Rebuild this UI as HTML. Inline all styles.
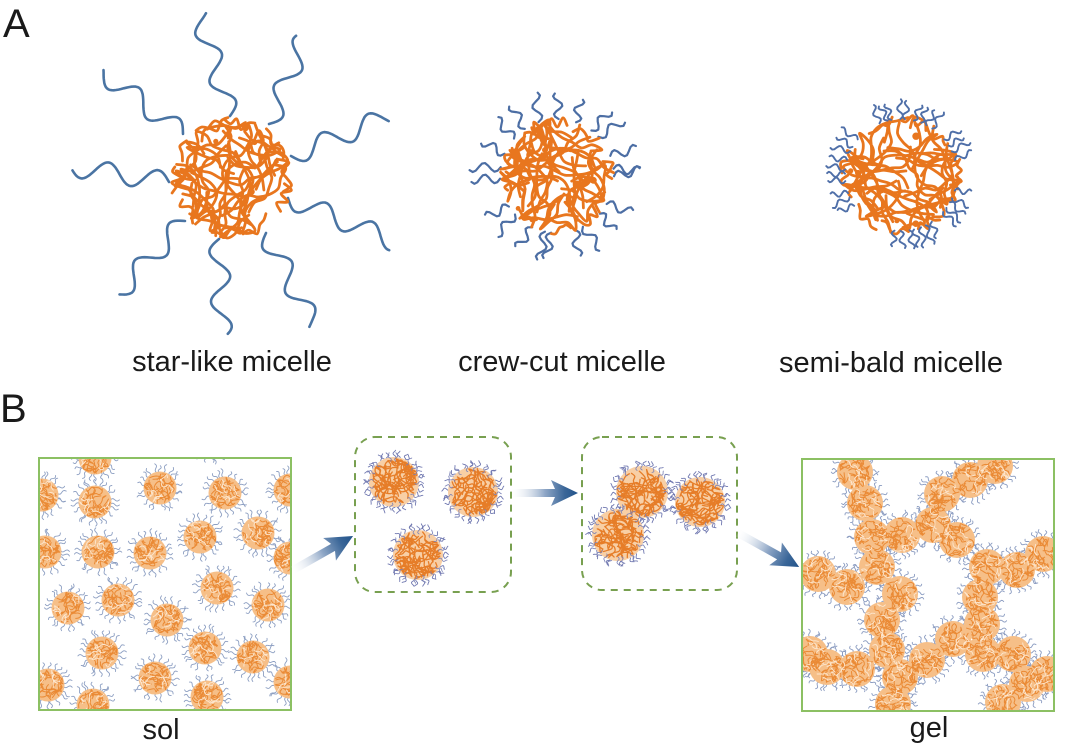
<!DOCTYPE html>
<html><head><meta charset="utf-8">
<style>
html,body{margin:0;padding:0;background:#fff;}
svg{display:block;}
text{font-family:"Liberation Sans",Arial,sans-serif;fill:#1a1a1a;}
</style></head>
<body>
<svg id="s" width="1080" height="751" viewBox="0 0 1080 751" xmlns="http://www.w3.org/2000/svg">
<defs>
 <linearGradient id="ag" x1="0" y1="0" x2="1" y2="0">
   <stop offset="0" stop-color="#ffffff" stop-opacity="0.15"/>
   <stop offset="0.5" stop-color="#8ea6c6"/>
   <stop offset="0.8" stop-color="#3a6698"/>
   <stop offset="1" stop-color="#22538a"/>
 </linearGradient>
 <clipPath id="csol"><rect x="39" y="458" width="252" height="252"/></clipPath>
 <clipPath id="cgel"><rect x="802" y="459" width="252" height="252"/></clipPath>
</defs>
<rect width="1080" height="751" fill="#fff"/>

<text x="3" y="37" font-size="40">A</text>
<text x="0" y="422" font-size="40">B</text>
<text x="232" y="371" font-size="29" text-anchor="middle">star-like micelle</text>
<text x="562" y="371" font-size="29" text-anchor="middle">crew-cut micelle</text>
<text x="891" y="372" font-size="29" text-anchor="middle">semi-bald micelle</text>
<text x="161" y="739" font-size="29" text-anchor="middle">sol</text>
<text x="929" y="737" font-size="29" text-anchor="middle">gel</text>

<g id="aT"></g>
<g id="aS"></g>
<g id="aTop"></g>

<g clip-path="url(#csol)">
 <g id="solT"></g>
 <g id="solC" fill="#f6bf88">
  <circle cx="95" cy="458" r="16.5"/><circle cx="95" cy="502" r="16.5"/><circle cx="42" cy="495" r="16.5"/>
  <circle cx="160" cy="488" r="16.5"/><circle cx="225" cy="493" r="16.5"/><circle cx="290" cy="490" r="16.5"/>
  <circle cx="210" cy="440" r="16.5"/>
  <circle cx="45" cy="552" r="16.5"/><circle cx="98" cy="552" r="16.5"/><circle cx="150" cy="553" r="16.5"/>
  <circle cx="200" cy="537" r="16.5"/><circle cx="258" cy="533" r="16.5"/><circle cx="290" cy="558" r="16.5"/>
  <circle cx="68" cy="608" r="16.5"/><circle cx="118" cy="600" r="16.5"/><circle cx="167" cy="620" r="16.5"/>
  <circle cx="217" cy="588" r="16.5"/><circle cx="268" cy="605" r="16.5"/>
  <circle cx="102" cy="653" r="16.5"/><circle cx="205" cy="648" r="16.5"/><circle cx="253" cy="657" r="16.5"/>
  <circle cx="48" cy="685" r="16.5"/><circle cx="155" cy="678" r="16.5"/><circle cx="93" cy="705" r="16.5"/>
  <circle cx="207" cy="697" r="16.5"/><circle cx="290" cy="682" r="16.5"/>
 </g>
 <g id="solS"></g>
</g>
<rect x="39" y="458" width="252" height="252" fill="none" stroke="#8cc063" stroke-width="2"/>

<g clip-path="url(#cgel)">
 <g id="gelT"></g>
 <g id="gelC" fill="#f6bf88">
  <circle cx="855" cy="472" r="18"/><circle cx="865" cy="503" r="18"/><circle cx="872" cy="537" r="18"/>
  <circle cx="902" cy="535" r="18"/><circle cx="877" cy="567" r="18"/><circle cx="900" cy="594" r="18"/>
  <circle cx="882" cy="620" r="18"/><circle cx="887" cy="650" r="18"/><circle cx="900" cy="677" r="18"/>
  <circle cx="893" cy="704" r="18"/><circle cx="818" cy="574" r="18"/><circle cx="847" cy="587" r="18"/>
  <circle cx="810" cy="654" r="18"/><circle cx="827" cy="667" r="18"/><circle cx="857" cy="669" r="18"/>
  <circle cx="927" cy="660" r="18"/><circle cx="953" cy="639" r="18"/><circle cx="983" cy="654" r="18"/>
  <circle cx="1013" cy="654" r="18"/><circle cx="1027" cy="684" r="18"/><circle cx="1047" cy="674" r="18"/>
  <circle cx="1003" cy="702" r="18"/><circle cx="982" cy="624" r="18"/><circle cx="980" cy="597" r="18"/>
  <circle cx="987" cy="567" r="18"/><circle cx="1017" cy="570" r="18"/><circle cx="1043" cy="554" r="18"/>
  <circle cx="957" cy="540" r="18"/><circle cx="933" cy="525" r="18"/><circle cx="942" cy="494" r="18"/>
  <circle cx="970" cy="480" r="18"/><circle cx="995" cy="466" r="18"/>
 </g>
 <g id="gelS"></g>
</g>
<rect x="802" y="459" width="252" height="252" fill="none" stroke="#8cc063" stroke-width="2"/>

<rect x="355" y="437" width="156" height="155" rx="20" fill="none" stroke="#78a050" stroke-width="2" stroke-dasharray="7 6"/>
<rect x="582" y="437" width="155" height="153" rx="20" fill="none" stroke="#78a050" stroke-width="2" stroke-dasharray="7 6"/>
<g id="bT"></g>
<g id="bC" fill="#f8cfa5">
 <circle cx="394" cy="482" r="25"/><circle cx="473" cy="492" r="25"/><circle cx="418" cy="555" r="25"/>
 <circle cx="642" cy="492" r="26"/><circle cx="700" cy="502" r="25"/><circle cx="618" cy="535" r="26"/>
</g>
<g id="bS"></g>
<g id="bTop"></g>

<path transform="translate(293,570) rotate(-29.5)" d="M0,-4 L46,-4 L42,-13 L69,0 L42,13 L46,4 L0,4 Z" fill="url(#ag)"/>
<path transform="translate(512,493)" d="M0,-4 L43,-4 L39,-13 L66,0 L39,13 L43,4 L0,4 Z" fill="url(#ag)"/>
<path transform="translate(738,533) rotate(29.1)" d="M0,-4 L47,-4 L43,-13 L70,0 L43,13 L47,4 L0,4 Z" fill="url(#ag)"/>
</svg>
<script>
(function(){
var NS="http://www.w3.org/2000/svg";
var seed=12345;
function rnd(){seed=(seed*1664525+1013904223)>>>0;return seed/4294967296;}
function el(tag,attrs,parent){var e=document.createElementNS(NS,tag);for(var k in attrs)e.setAttribute(k,attrs[k]);parent.appendChild(e);return e;}
function f(v){return v.toFixed(1);}
function $(id){return document.getElementById(id);}
function smooth(pts){
  var d="M"+f(pts[0][0])+","+f(pts[0][1]);
  for(var i=0;i<pts.length-1;i++){
    var p0=pts[i>0?i-1:0],p1=pts[i],p2=pts[i+1],p3=pts[i+2<pts.length?i+2:i+1];
    var c1x=p1[0]+(p2[0]-p0[0])/6,c1y=p1[1]+(p2[1]-p0[1])/6;
    var c2x=p2[0]-(p3[0]-p1[0])/6,c2y=p2[1]-(p3[1]-p1[1])/6;
    d+="C"+f(c1x)+","+f(c1y)+" "+f(c2x)+","+f(c2y)+" "+f(p2[0])+","+f(p2[1]);
  }
  return d;
}
function wave(x0,y0,x1,y1,per,amp,ph,n){
  var dx=x1-x0,dy=y1-y0,L=Math.sqrt(dx*dx+dy*dy),ux=dx/L,uy=dy/L,nx=-uy,ny=ux;
  var d="";
  for(var i=0;i<=n;i++){var t=i/n;var o=amp*Math.sin(2*Math.PI*per*t+ph);
    d+=(i?"L":"M")+f(x0+dx*t+nx*o)+","+f(y0+dy*t+ny*o);}
  return d;
}
function core(g,cx,cy,r,n,steps,sl,sw,col,dots,turn,edge){
  var d="";turn=turn||2.4;
  for(var i=0;i<n;i++){
    var a=rnd()*Math.PI*2, rr=Math.sqrt(rnd())*r*0.95;
    var x=cx+Math.cos(a)*rr,y=cy+Math.sin(a)*rr,h=rnd()*Math.PI*2;
    var pts=[[x,y]];
    for(var s=0;s<steps;s++){
      h+=(rnd()-0.5)*turn;
      var nx=x+Math.cos(h)*sl, ny=y+Math.sin(h)*sl;
      var dx=nx-cx,dy=ny-cy;
      if(Math.sqrt(dx*dx+dy*dy)>r*0.96){h=Math.atan2(cy-y,cx-x)+(rnd()-0.5)*1.8;nx=x+Math.cos(h)*sl;ny=y+Math.sin(h)*sl;}
      x=nx;y=ny;pts.push([x,y]);
    }
    d+=smooth(pts);
  }
  if(edge){
    for(var k=0;k<edge;k++){
      var a0=k/edge*2*Math.PI+rnd()*0.4, span=0.35+rnd()*0.3, pts2=[];
      for(var m=0;m<=5;m++){var aa=a0+span*m/5;var rr2=r*(0.78+rnd()*0.2);
        pts2.push([cx+Math.cos(aa)*rr2,cy+Math.sin(aa)*rr2]);}
      d+=smooth(pts2);
    }
  }
  el("path",{d:d,fill:"none",stroke:col,"stroke-width":sw,"stroke-linecap":"round","stroke-linejoin":"round"},g);
  if(dots){for(var j=0;j<dots;j++){var a2=rnd()*Math.PI*2,r2=Math.sqrt(rnd())*r*0.85;
    el("circle",{cx:f(cx+Math.cos(a2)*r2),cy:f(cy+Math.sin(a2)*r2),r:f(2.3+rnd()*1.4),fill:col},g);}}
}
function tails(g,cx,cy,r,nt,r0off,len,amp,per,col,sw,angs){
  var d="";
  for(var i=0;i<nt;i++){
    var a=angs?angs[i]:(i/nt*2*Math.PI+rnd()*0.25);
    var tilt=(rnd()-0.5)*0.5;
    var r0=r+r0off, r1=r+len*(0.8+rnd()*0.4);
    var x0=cx+Math.cos(a)*r0,y0=cy+Math.sin(a)*r0;
    var L=r1-r0;
    var x1=x0+Math.cos(a+tilt)*L,y1=y0+Math.sin(a+tilt)*L;
    d+=wave(x0,y0,x1,y1,per,amp,(rnd()<0.5?0:Math.PI),10);
  }
  el("path",{d:d,fill:"none",stroke:col,"stroke-width":sw,"stroke-linecap":"round","stroke-linejoin":"round"},g);
}

var arms=[[230,116,200,15],[269,124,304,39],[291,156,387,117],[288,198,393,241],[266,233,313,325],[219,239,222,334],[185,221,118,293],[169,182,73,167],[183,134,102,72]];
var d="";
arms.forEach(function(a){var L=Math.sqrt((a[2]-a[0])*(a[2]-a[0])+(a[3]-a[1])*(a[3]-a[1]));
  d+=wave(a[0],a[1],a[2],a[3],L/50,10,0,60);});
el("path",{d:d,fill:"none",stroke:"#4a74a3","stroke-width":2.6,"stroke-linecap":"round","stroke-linejoin":"round"},$("aT"));
tails($("aT"),557,176,60,22,-3,24,4.5,1.4,"#4c6ea4",2.2,null);
core($("aS"),231,178,63,30,9,11,2.8,"#e8761e",7,1.7,10);
core($("aS"),557,176,60,28,9,11,2.8,"#e8761e",6,1.7,10);
core($("aS"),901,175,62,29,9,11,2.8,"#e8761e",6,1.7,10);
var angs=[],cl=[[-115,-50,9],[-40,-10,4],[15,45,5],[55,100,7],[145,225,10]];
cl.forEach(function(c){for(var i=0;i<c[2];i++){angs.push((c[0]+(c[1]-c[0])*(i+rnd()*0.6)/c[2])*Math.PI/180);}});
tails($("aTop"),901,175,62,angs.length,-6,12,2.8,1.4,"#4f6fa8",1.9,angs);

function smallSet(cid,tid,sid,tl,tc){
  var cs=$(cid).getElementsByTagName("circle");
  for(var i=0;i<cs.length;i++){
    var cx=+cs[i].getAttribute("cx"),cy=+cs[i].getAttribute("cy"),r=+cs[i].getAttribute("r");
    tails($(tid),cx,cy,r,22,-1,tl,1.2,1,tc,0.9,null);
    core($(sid),cx,cy,r,22,5,3.5,1.0,"#ea8a35",0);
    core($(sid),cx,cy,r,8,4,3,0.9,"#fde7cf",0);
  }
}
smallSet("solC","solT","solS",7,"#8d9fc2");
smallSet("gelC","gelT","gelS",6,"#8a9bc0");

var bs=$("bC").getElementsByTagName("circle");
for(var i=0;i<bs.length;i++){
  var cx=+bs[i].getAttribute("cx"),cy=+bs[i].getAttribute("cy"),r=+bs[i].getAttribute("r");
  tails($("bT"),cx,cy,r,30,-2,6,1.4,1.2,"#7078b0",0.9,null);
  core($("bS"),cx,cy,r,46,6,4.5,1.3,"#e67d28",0);
  tails($("bTop"),cx,cy,r,16,-4,4,1.2,1.2,"#7a80b5",0.8,null);
}
})();
</script>
</body></html>
